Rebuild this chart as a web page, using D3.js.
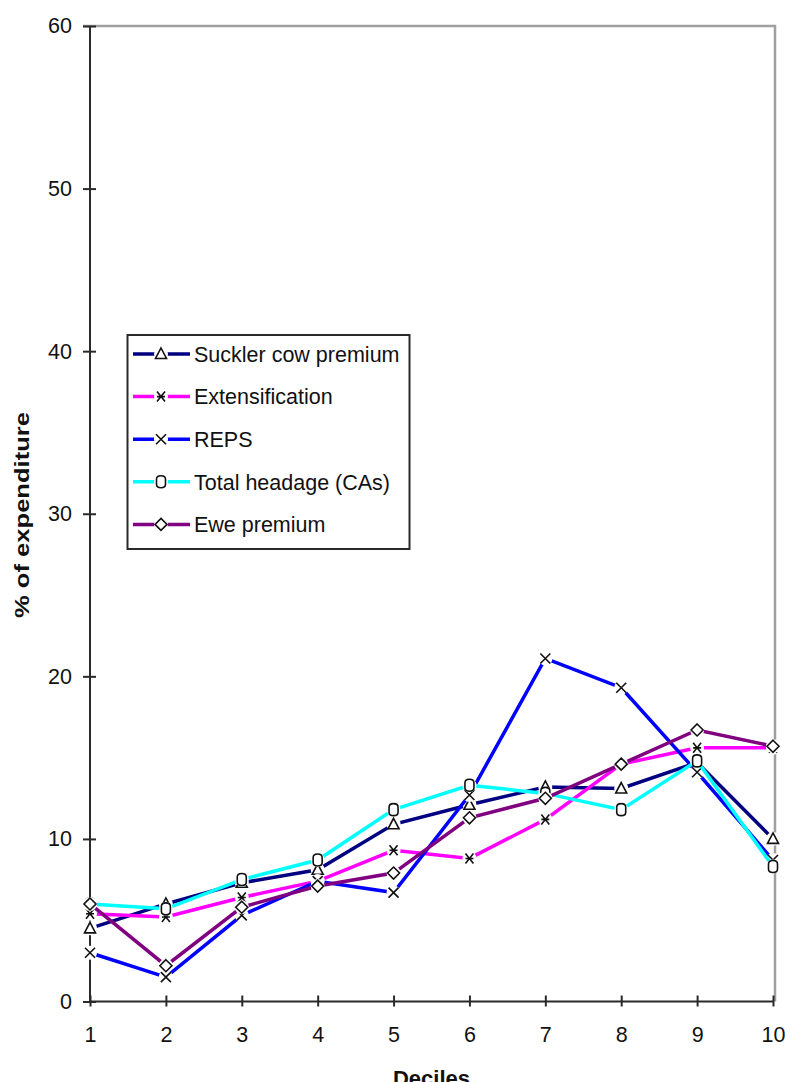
<!doctype html>
<html lang="en">
<head>
  <meta charset="utf-8">
  <title>% of expenditure by decile</title>
  <style>
    body { margin: 0; background: #fff; }
    text { font-family: "Liberation Sans", Arial, sans-serif; fill: #111; }
  </style>
</head>
<body>
  <script src="https://cdn.jsdelivr.net/npm/d3@7"></script>
  <script>
    var deciles = [1, 2, 3, 4, 5, 6, 7, 8, 9, 10]
    var yTicks = [0, 10, 20, 30, 40, 50, 60]

    var suckler = [4.5, 6.0, 7.3, 8.1, 10.9, 12.1, 13.2, 13.1, 14.7, 10.0]
    var extensification = [5.4, 5.2, 6.4, 7.4, 9.3, 8.8, 11.2, 14.6, 15.6, 15.6]
    var reps = [3.0, 1.5, 5.3, 7.4, 6.7, 12.7, 21.1, 19.3, 14.1, 8.7]
    var totalHeadage = [6.0, 5.7, 7.5, 8.7, 11.8, 13.3, 12.8, 11.8, 14.8, 8.3]
    var ewe = [6.0, 2.2, 5.8, 7.1, 7.9, 11.3, 12.5, 14.6, 16.7, 15.7]

    var seriesNames = ['Suckler cow premium', 'Extensification', 'REPS', 'Total headage (CAs)', 'Ewe premium']
    var seriesValues = [suckler, extensification, reps, totalHeadage, ewe]
    var seriesColors = ['#000080', '#ff00ff', '#0000ff', '#00ffff', '#800080']
    var seriesMarkers = ['triangle', 'asterisk', 'cross', 'circle', 'diamond']

    var series = seriesNames.map(function(name, i) {
      return { name: name, values: seriesValues[i], color: seriesColors[i], marker: seriesMarkers[i] }
    })

    var margin = { left: 90, right: 773, top: 26, bottom: 1001.5 }

    var svg = d3.select('body').append('svg')
      .attr('width', 790)
      .attr('height', 1082)

    var x = d3.scaleLinear().domain([1, 10]).range([margin.left, margin.right])
    var y = d3.scaleLinear().domain([0, 60]).range([margin.bottom, margin.top])

    // plot frame: grey top and right edges
    svg.append('path')
      .attr('d', 'M' + (margin.left - 7) + ',' + margin.top + 'H' + (margin.right + 2) + 'V' + margin.bottom)
      .style('fill', 'none')
      .style('stroke', '#a0a0a0')
      .style('stroke-width', 2.5)

    var yAxis = d3.axisLeft(y)
      .tickValues(yTicks)
      .tickSize(7)
      .tickPadding(11)
    var gy = svg.append('g')
      .attr('transform', 'translate(' + margin.left + ',0)')
      .call(yAxis)
    gy.selectAll('.tick line').attr('x2', 6).attr('x1', -7)

    var xAxis = d3.axisBottom(x)
      .tickValues(deciles)
      .tickSize(5)
      .tickPadding(20)
    var gx = svg.append('g')
      .attr('transform', 'translate(0,' + margin.bottom + ')')
      .call(xAxis)
    gx.selectAll('.tick line').attr('y1', -6).attr('y2', 5)

    svg.selectAll('.domain, .tick line')
      .style('stroke', '#2a2a2a')
      .style('stroke-width', 2)
    gy.select('.domain').attr('d', 'M0,' + margin.top + 'V' + margin.bottom)
    gx.select('.domain').attr('d', 'M' + margin.left + ',0H' + margin.right)
    svg.selectAll('.tick text')
      .style('font-size', '21.5px')
      .style('fill', '#111')

    // axis titles
    svg.append('text')
      .attr('transform', 'translate(29,515) rotate(-90)')
      .attr('text-anchor', 'middle')
      .attr('textLength', 206)
      .attr('lengthAdjust', 'spacingAndGlyphs')
      .style('font-size', '21px')
      .style('font-weight', 'bold')
      .text('% of expenditure')

    svg.append('text')
      .attr('x', (margin.left + margin.right) / 2)
      .attr('y', 1086)
      .attr('text-anchor', 'middle')
      .style('font-size', '22px')
      .style('font-weight', 'bold')
      .text('Deciles')

    function markerPath(type) {
      if (type === 'triangle') return 'M0,-6L5.5,4.5H-5.5Z'
      if (type === 'diamond') return 'M0,-6L6,0L0,6L-6,0Z'
      if (type === 'circle') return 'M-4.5,-2.5Q-4.5,-6 0,-6Q4.5,-6 4.5,-2.5V2.5Q4.5,6 0,6Q-4.5,6 -4.5,2.5Z'
      if (type === 'cross') return 'M-5,-5L5,5M5,-5L-5,5'
      return 'M-4,-5L4,5M4,-5L-4,5M-4,0H4'
    }

    var line = d3.line()
      .x(function(d, i) { return x(deciles[i]) })
      .y(function(d) { return y(d) })

    var plot = svg.append('g').attr('class', 'plot')

    series.forEach(function(s) {
      var g = plot.append('g').attr('class', 'series')

      g.append('path')
        .attr('d', line(s.values))
        .style('fill', 'none')
        .style('stroke', s.color)
        .style('stroke-width', 3.5)

      var mark = g.selectAll('.mark')
        .data(s.values)
        .enter().append('g')
        .attr('class', 'mark')
        .attr('transform', function(d, i) { return 'translate(' + x(deciles[i]) + ',' + y(d) + ')' })

      // knock out the line behind each marker
      mark.append('circle')
        .attr('r', 7)
        .style('fill', '#fff')

      mark.append('path')
        .attr('d', markerPath(s.marker))
        .style('fill', s.marker === 'cross' || s.marker === 'asterisk' ? 'none' : '#fff')
        .style('stroke', '#111')
        .style('stroke-width', 1.6)
    })

    // legend
    var legend = svg.append('g').attr('class', 'legend')
    legend.append('rect')
      .attr('x', 127.5)
      .attr('y', 335)
      .attr('width', 282)
      .attr('height', 214)
      .style('fill', '#fff')
      .style('stroke', '#2a2a2a')
      .style('stroke-width', 2)

    var item = legend.selectAll('.item')
      .data(series)
      .enter().append('g')
      .attr('class', 'item')
      .attr('transform', function(d, i) { return 'translate(0,' + (354 + i * 42.6) + ')' })

    item.append('line')
      .attr('x1', 133).attr('x2', 190)
      .style('stroke', function(d) { return d.color })
      .style('stroke-width', 3.5)

    item.append('circle')
      .attr('cx', 161)
      .attr('r', 7)
      .style('fill', '#fff')

    item.append('path')
      .attr('transform', 'translate(161,0)')
      .attr('d', function(d) { return markerPath(d.marker) })
      .style('fill', function(d) { return d.marker === 'cross' || d.marker === 'asterisk' ? 'none' : '#fff' })
      .style('stroke', '#111')
      .style('stroke-width', 1.6)

    item.append('text')
      .attr('x', 194)
      .attr('dy', '0.36em')
      .style('font-size', '21.5px')
      .text(function(d) { return d.name })
  </script>
</body>
</html>
